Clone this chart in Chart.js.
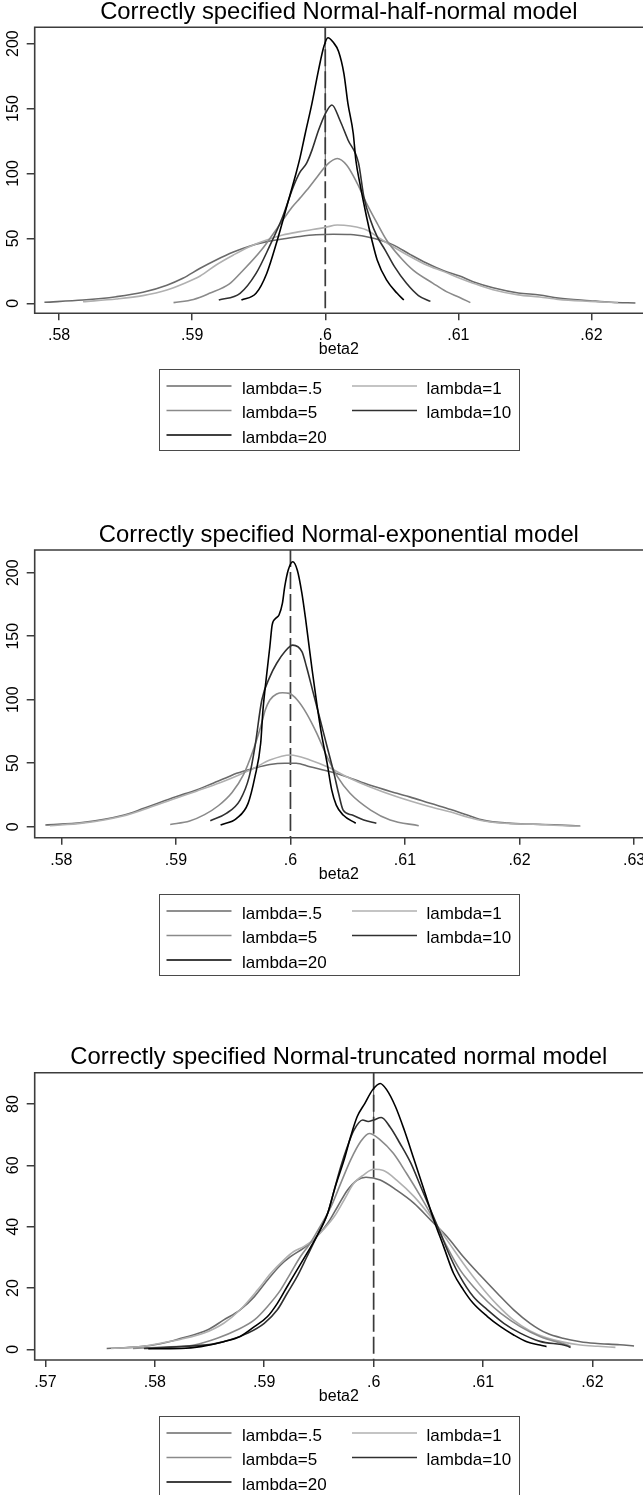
<!DOCTYPE html>
<html>
<head>
<meta charset="utf-8">
<script src="https://cdn.jsdelivr.net/npm/chart.js@4.4.1/dist/chart.umd.min.js"></script>
<style>
  html, body { margin: 0; padding: 0; background: #fff; overflow: hidden; }
  body { width: 643px; height: 1495px; position: relative; }
  canvas { position: absolute; left: 0; }
</style>
</head>
<body>
<canvas id="c1" width="643" height="523" style="top:0px"></canvas>
<canvas id="c2" width="643" height="523" style="top:523px"></canvas>
<canvas id="c3" width="643" height="523" style="top:1045px"></canvas>
<script>
// ---- data (x = beta2, y = density) ----
const seriesLabels = ['lambda=.5', 'lambda=1', 'lambda=5', 'lambda=10', 'lambda=20'];
const titles = [
  'Correctly specified Normal-half-normal model',
  'Correctly specified Normal-exponential model',
  'Correctly specified Normal-truncated normal model'
];
const xTicks1 = [0.58, 0.59, 0.6, 0.61, 0.62];
const xTicks2 = [0.58, 0.59, 0.6, 0.61, 0.62, 0.63];
const xTicks3 = [0.57, 0.58, 0.59, 0.6, 0.61, 0.62];
const yTicks1 = [0, 50, 100, 150, 200];
const yTicks2 = [0, 50, 100, 150, 200];
const yTicks3 = [0, 20, 40, 60, 80];
const trueBeta2 = 0.6;

// Normal-half-normal
const hn05 = [[0.5789,0.8],[0.5818,2.5],[0.5843,5.1],[0.5863,8.5],[0.5881,14],[0.5893,19.3],[0.5906,27],[0.5918,33.4],[0.5931,39.5],[0.5943,44],[0.5956,47.5],[0.5968,49.5],[0.5981,51.5],[0.5993,52.8],[0.6006,53.2],[0.6019,53],[0.6031,51.3],[0.6041,48.8],[0.6051,45],[0.6064,37.5],[0.6076,31],[0.6089,25],[0.6101,21],[0.6111,16.6],[0.6126,12],[0.6145,8],[0.6161,6.4],[0.6175,4],[0.6199,2],[0.6215,0.8],[0.6233,0.2]];
const hn1 = [[0.5818,1.2],[0.5843,3.3],[0.5863,5.9],[0.5881,10.2],[0.5893,14.9],[0.5906,21],[0.5918,29.5],[0.5931,37.2],[0.5943,43.6],[0.5956,48.8],[0.5968,52.6],[0.5981,55.2],[0.6,58.5],[0.6009,60.3],[0.6019,59.5],[0.6031,56.5],[0.6041,50],[0.6051,43.6],[0.6064,35.9],[0.6076,29.5],[0.6089,24.4],[0.6101,19.3],[0.6111,15.5],[0.6126,10.5],[0.6145,6.5],[0.6161,4.9],[0.6175,3],[0.6199,1.5],[0.622,0.5]];
const hn5 = [[0.5886,0.5],[0.5901,3],[0.5913,7.7],[0.5928,15],[0.5936,23],[0.5952,41],[0.5966,61],[0.5975,74],[0.5981,81],[0.5986,87],[0.5994,97.5],[0.6001,106.5],[0.6009,111.5],[0.6016,106.5],[0.6024,92.4],[0.6031,77],[0.6039,61.6],[0.6046,48.8],[0.6056,35.9],[0.6066,25.6],[0.6081,15.4],[0.6091,9],[0.6101,4.5],[0.6109,0.5]];
const hn10 = [[0.592,2.5],[0.5936,7.7],[0.5948,23],[0.5958,43.6],[0.5968,66.7],[0.5976,89.8],[0.5981,101],[0.5986,108],[0.599,118],[0.5995,133.5],[0.6,146],[0.6005,152.8],[0.6011,141],[0.6017,126],[0.6025,108],[0.6029,82],[0.6034,64],[0.6039,51.3],[0.6045,41],[0.6052,28.2],[0.6061,15.4],[0.607,6],[0.6079,1.5]];
const hn20 = [[0.5937,2.5],[0.5948,7.7],[0.5956,23],[0.5964,48.8],[0.5971,74.4],[0.5978,100],[0.5981,112],[0.5985,131],[0.599,154],[0.5995,180],[0.5999,198],[0.6002,204.5],[0.6006,201],[0.601,194],[0.6014,177],[0.6017,154],[0.6021,131],[0.6023,110],[0.6026,92.4],[0.6031,66.7],[0.6035,48.8],[0.6039,33.4],[0.6046,18],[0.6054,7.7],[0.6059,2.5]];

// Normal-exponential
const ex05 = [[0.5786,1.3],[0.5818,3.2],[0.5854,9],[0.5872,14.5],[0.59,23.6],[0.5918,29],[0.5933,34.5],[0.5944,38.5],[0.5953,42],[0.5968,46],[0.5982,49],[0.5995,50],[0.6005,50],[0.6017,47.2],[0.6035,43.3],[0.6049,39.4],[0.6069,32.8],[0.6093,26.3],[0.6104,23.5],[0.6122,18.4],[0.614,13.5],[0.6155,9],[0.6169,5],[0.619,2.8],[0.6212,2],[0.623,1.5],[0.6253,0.5]];
const ex1 = [[0.579,0.8],[0.5818,2.8],[0.5854,8.5],[0.5872,13.5],[0.59,22.4],[0.5918,28],[0.5939,34.8],[0.5953,40],[0.5968,46],[0.5982,52.5],[0.6,56.5],[0.6017,52.5],[0.6035,46],[0.6049,39.4],[0.6069,31.5],[0.6093,23.6],[0.6122,15.7],[0.614,11.5],[0.6155,7.5],[0.6169,4.5],[0.619,2.5],[0.6212,2],[0.623,1.2],[0.6253,0.3]];
const ex5 = [[0.5895,1.8],[0.5912,4.5],[0.5925,9.5],[0.5937,16.5],[0.5949,27],[0.5959,41],[0.5967,59],[0.5974,78.7],[0.5978,91.9],[0.5982,99.8],[0.5988,104.5],[0.5993,105.5],[0.5999,105],[0.6006,99.8],[0.6014,89.3],[0.6023,73.5],[0.6032,55],[0.6041,39.4],[0.6052,26.3],[0.607,13.1],[0.6087,5.3],[0.6112,0.8]];
const ex10 = [[0.593,4.7],[0.5944,10.5],[0.5956,21],[0.5964,39.4],[0.5969,63],[0.5975,99.8],[0.5982,118],[0.5988,128.7],[0.5995,137.8],[0.6002,143],[0.601,137.8],[0.6014,126],[0.602,105],[0.6026,84],[0.6032,63],[0.6038,42],[0.6042,26.3],[0.6046,13.1],[0.6054,9.2],[0.6064,5.3],[0.6075,2.7]];
const ex20 = [[0.5939,1.3],[0.5953,6.6],[0.5963,18.4],[0.5969,39.4],[0.5974,65.7],[0.5976,91.9],[0.5979,118],[0.5982,141.7],[0.5984,158.8],[0.5987,164],[0.599,166.7],[0.5993,176],[0.5995,189],[0.5998,202],[0.6002,208.7],[0.6006,202],[0.601,183.8],[0.6013,165],[0.6016,144],[0.6019,123],[0.6023,97],[0.6027,73.5],[0.6032,50],[0.6036,29],[0.604,17],[0.6046,9.2],[0.6057,2.7]];

// Normal-truncated normal
const tn05 = [[0.5756,0.3],[0.5785,0.8],[0.5805,1.8],[0.5824,3.6],[0.5848,6.3],[0.5863,9.6],[0.5878,12.9],[0.5891,17.2],[0.5903,22.6],[0.5915,27.5],[0.5924,30.2],[0.5936,33],[0.5945,35.7],[0.5958,41.1],[0.5967,46.5],[0.5976,51.9],[0.5985,55.2],[0.5993,56.1],[0.6006,55.2],[0.6021,51.9],[0.6037,47.6],[0.6052,42.2],[0.6067,36.8],[0.6082,30.2],[0.6097,24.3],[0.6113,18.3],[0.6128,12.9],[0.6143,8.5],[0.6158,5.3],[0.6173,3.6],[0.6189,2.5],[0.6202,2],[0.6225,1.5],[0.6238,1.1]];
const tn1 = [[0.576,0.3],[0.5785,0.8],[0.5805,2],[0.5824,3.3],[0.5845,5.3],[0.5863,8.5],[0.5878,12.9],[0.5894,19.4],[0.5906,24.8],[0.5918,29.2],[0.5927,31.9],[0.5936,33.5],[0.5945,35.7],[0.5954,39],[0.5964,43.3],[0.5973,48.7],[0.5982,54.2],[0.5991,56.9],[0.6,58.7],[0.6009,58.3],[0.6021,55.2],[0.6037,49.8],[0.6052,43.3],[0.6067,35.7],[0.6082,28],[0.6097,21],[0.6113,14.5],[0.6128,9.5],[0.6143,6],[0.6158,3.8],[0.6189,1.4],[0.6205,1],[0.6221,0.65]];
const tn5 = [[0.578,0.3],[0.5805,0.7],[0.5836,1.4],[0.5857,3.6],[0.5875,6.3],[0.5891,9.6],[0.5903,14],[0.5915,19.4],[0.5924,24.8],[0.5933,30.2],[0.5942,34.6],[0.5951,40],[0.5961,46.5],[0.597,54.2],[0.5979,61.8],[0.5988,67.7],[0.5996,70.4],[0.6006,68.3],[0.6018,63.9],[0.603,57.4],[0.6043,49.8],[0.6055,42.2],[0.6067,33.5],[0.6079,25.9],[0.6091,20.5],[0.6104,15.6],[0.6116,11.8],[0.6134,7.4],[0.6152,4.2],[0.6177,1.4],[0.618,1]];
const tn10 = [[0.579,0.3],[0.5824,0.9],[0.5854,1.8],[0.5869,3.1],[0.5885,5.3],[0.59,8.5],[0.5912,12.9],[0.5921,18.3],[0.593,23.7],[0.5939,30.2],[0.5948,36.8],[0.5958,44.4],[0.5964,52],[0.597,59.6],[0.5976,66.1],[0.5982,71.5],[0.599,74.8],[0.5995,74.3],[0.6,74.8],[0.6007,75.6],[0.6015,72.5],[0.6024,67.2],[0.6034,60.7],[0.6043,53.1],[0.6052,45.5],[0.6061,37.9],[0.607,30.2],[0.6079,23.7],[0.6091,17.2],[0.6104,12.9],[0.6119,8.5],[0.6134,5.3],[0.6152,2.6],[0.6177,1.1],[0.618,0.6]];
const tn20 = [[0.5794,0.2],[0.5824,0.3],[0.5842,0.9],[0.5863,2.5],[0.5878,4.2],[0.5891,7.4],[0.5903,10.7],[0.5912,15],[0.5921,20.5],[0.593,25.9],[0.5939,31.3],[0.5948,36.8],[0.5958,44.4],[0.5965,53.1],[0.5973,61.8],[0.5979,69.4],[0.5985,75.9],[0.5992,80.2],[0.5999,84.6],[0.6006,86.7],[0.6012,84.6],[0.602,79.1],[0.6028,71.5],[0.6037,61.8],[0.6046,52],[0.6055,42.2],[0.6064,33.5],[0.6073,24.8],[0.6082,19.4],[0.6091,15],[0.6104,10.7],[0.6116,7.4],[0.6128,4.7],[0.614,2.5],[0.6152,1.4],[0.6158,0.9]];

// ---- styling (Stata mono look) ----
const seriesColors = ['#6a6a6a', '#b0b0b0', '#8a8a8a', '#303030', '#000000'];
const FONT = '"Liberation Sans", Arial, Helvetica, sans-serif';
Chart.defaults.font.family = FONT;
Chart.defaults.color = '#000';

const CANVAS_H = 523;
const PLOT_LEFT = 34.7;

const fmtTick = v => String(Math.round(v * 1000) / 1000).replace(/^0\./, '.');

function buildDatasets(seriesList) {
  return seriesList.map((pts, i) => ({
    label: seriesLabels[i],
    data: pts.map(p => ({ x: p[0], y: p[1] })),
    borderColor: seriesColors[i],
    borderWidth: 1.6,
    pointRadius: 0,
    fill: false,
    cubicInterpolationMode: 'monotone',
    order: seriesList.length - 1 - i
  }));
}

// title centred over the plot region, as Stata does
const plotTitle = {
  id: 'plotTitle',
  afterDraw(chart, args, opts) {
    const { ctx, chartArea } = chart;
    ctx.save();
    ctx.font = '23.8px ' + FONT;
    ctx.fillStyle = '#000';
    ctx.textAlign = 'center';
    ctx.textBaseline = 'alphabetic';
    ctx.fillText(opts.text, (chartArea.left + chartArea.right) / 2, 19);
    ctx.restore();
  }
};

// plot frame: top, left and bottom (right edge is cut off)
const plotFrame = {
  id: 'plotFrame',
  afterDraw(chart) {
    const { ctx, chartArea: a } = chart;
    ctx.save();
    ctx.strokeStyle = '#3c3c3c';
    ctx.lineWidth = 1.6;
    ctx.beginPath();
    ctx.moveTo(a.right + 2, a.top);
    ctx.lineTo(a.left, a.top);
    ctx.lineTo(a.left, a.bottom);
    ctx.lineTo(a.right + 2, a.bottom);
    ctx.stroke();
    ctx.restore();
  }
};

// vertical line at the true value
const refLine = {
  id: 'refLine',
  beforeDatasetsDraw(chart, args, opts) {
    const { ctx, chartArea: a, scales } = chart;
    const px = scales.x.getPixelForValue(opts.value);
    ctx.save();
    ctx.strokeStyle = '#555';
    ctx.lineWidth = 1;
    ctx.beginPath();
    ctx.moveTo(px, a.top);
    ctx.lineTo(px, scales.y.getPixelForValue(opts.solidTo));
    ctx.stroke();
    ctx.strokeStyle = '#3a3a3a';
    ctx.lineWidth = 1.7;
    ctx.setLineDash([17, 5]);
    ctx.beginPath();
    ctx.moveTo(px, a.top);
    ctx.lineTo(px, a.bottom);
    ctx.stroke();
    ctx.restore();
  }
};

// vertical y tick labels
const yLabels = {
  id: 'yLabels',
  afterDraw(chart) {
    const { ctx, scales } = chart;
    const y = scales.y;
    ctx.save();
    ctx.font = '16px ' + FONT;
    ctx.fillStyle = '#000';
    ctx.textAlign = 'center';
    ctx.textBaseline = 'middle';
    y.ticks.forEach(t => {
      ctx.save();
      ctx.translate(13.5, y.getPixelForValue(t.value));
      ctx.rotate(-Math.PI / 2);
      ctx.fillText(String(t.value), 0, 0);
      ctx.restore();
    });
    ctx.restore();
  }
};

// boxed two-column legend below the axis
const boxLegend = {
  id: 'boxLegend',
  afterDraw(chart) {
    const { ctx, chartArea: a } = chart;
    const w = 360, h = 81;
    const bx = Math.round((a.left + a.right) / 2 - w / 2) + 0.5;
    const by = Math.round(a.bottom + 56) + 0.5;
    ctx.save();
    ctx.strokeStyle = '#4a4a4a';
    ctx.lineWidth = 1;
    ctx.strokeRect(bx, by, w, h);
    ctx.font = '17px ' + FONT;
    ctx.fillStyle = '#000';
    ctx.textAlign = 'left';
    ctx.textBaseline = 'alphabetic';
    chart.data.datasets.forEach((ds, i) => {
      const col = i % 2, row = Math.floor(i / 2);
      const ly = by + 16.5 + row * 24.5;
      const lx = bx + 7 + col * 185.5;
      ctx.strokeStyle = ds.borderColor;
      ctx.lineWidth = ds.borderWidth;
      ctx.beginPath();
      ctx.moveTo(lx, ly);
      ctx.lineTo(lx + 65, ly);
      ctx.stroke();
      ctx.fillText(ds.label, bx + 82.5 + col * 184.5, ly + 7.6);
    });
    ctx.restore();
  }
};

function makePanel(id, title, seriesList, xTicks, yTicks, xMin, xMax, yMin, yMax, plotTop, plotBottom, solidTo) {
  new Chart(document.getElementById(id), {
    type: 'line',
    data: { datasets: buildDatasets(seriesList) },
    options: {
      responsive: false,
      animation: false,
      events: [],
      layout: { padding: { top: plotTop, left: 0, right: 0, bottom: 0 } },
      plugins: {
        legend: { display: false },
        title: { display: false },
        tooltip: { enabled: false },
        plotTitle: { text: title },
        refLine: { value: trueBeta2, solidTo: solidTo }
      },
      scales: {
        x: {
          type: 'linear',
          min: xMin,
          max: xMax,
          afterBuildTicks: s => { s.ticks = xTicks.map(v => ({ value: v })); },
          afterFit: s => { s.height = CANVAS_H - plotBottom; s.paddingLeft = 0; s.paddingRight = 0; },
          ticks: { font: { size: 16 }, color: '#000', padding: 5.8, maxRotation: 0, autoSkip: false, callback: v => fmtTick(v) },
          grid: { drawOnChartArea: false, tickLength: 7, tickColor: '#3c3c3c', lineWidth: 1.5 },
          border: { display: false },
          title: {
            display: true, text: 'beta2', color: '#000', font: { size: 16 },
            padding: { top: 0, bottom: CANVAS_H - (plotBottom + 36.5) - 9.6 }
          }
        },
        y: {
          type: 'linear',
          min: yMin,
          max: yMax,
          afterBuildTicks: s => { s.ticks = yTicks.map(v => ({ value: v })); },
          afterFit: s => { s.width = PLOT_LEFT; },
          ticks: { display: false },
          grid: { drawOnChartArea: false, tickLength: 8, tickColor: '#3c3c3c', lineWidth: 1.5 },
          border: { display: false }
        }
      }
    },
    plugins: [refLine, plotFrame, yLabels, plotTitle, boxLegend]
  });
}

makePanel('c1', titles[0], [hn05, hn1, hn5, hn10, hn20], xTicks1, yTicks1,
  0.57817, 0.62387, -7.7, 212.6, 27.3, 313.3, 110);
makePanel('c2', titles[1], [ex05, ex1, ex5, ex10, ex20], xTicks2, yTicks2,
  0.57767, 0.63078, -8.66, 217.9, 27, 314.7, 205);
makePanel('c3', titles[2], [tn05, tn1, tn5, tn10, tn20], xTicks3, yTicks3,
  0.56902, 0.62462, -3.47, 90.2, 27.7, 315, 75);
</script>
</body>
</html>
